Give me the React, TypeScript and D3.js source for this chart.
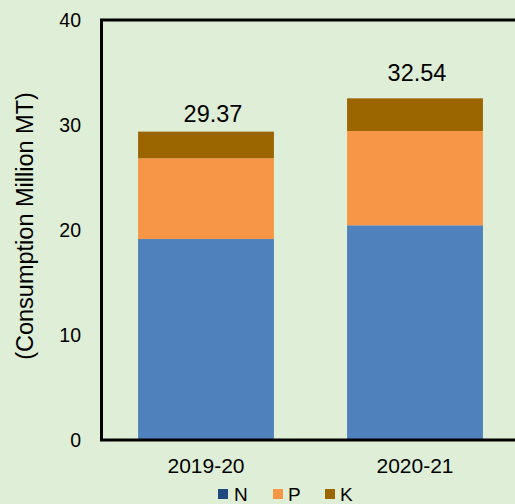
import React from "react";
import * as d3 from "d3";

const categories = ["2019-20", "2020-21"];
const seriesNames = ["N", "P", "K"];
const nValues = [19.14, 20.45];
const pValues = [7.69, 8.98];
const kValues = [2.54, 3.11];
const totals = [29.37, 32.54];
const yTicks = [0, 10, 20, 30, 40];

const W = 515;
const H = 504;
const colors: Record<string, string> = { N: "#4f81bd", P: "#f79646", K: "#9b6500" };
const legendColors: Record<string, string> = { N: "#1f497d", P: "#f79646", K: "#9b6500" };
const labelOffsets = [10, 17];
const labelShiftX = [7, 2];
const font = "'Liberation Sans', Arial, sans-serif";

export default function App() {
  const left = 101.5;
  const top = 20;
  const bottom = 440;
  const x = d3.scaleBand<string>().domain(categories).range([left, left + 418]).paddingInner(0.35).paddingOuter(0.175);
  const y = d3.scaleLinear().domain([0, 40]).range([bottom, top]);

  const rows = categories.map((c, i) => ({ cat: c, N: nValues[i], P: pValues[i], K: kValues[i] }));
  const stacked = d3.stack<any>().keys(seriesNames)(rows);

  const legendItems = [
    { name: "N", sx: 218, tx: 234 },
    { name: "P", sx: 273, tx: 288 },
    { name: "K", sx: 325, tx: 340 },
  ];

  return (
    <div style={{ position: "absolute", left: 0, top: 0 }}>
      <svg width={W} height={H} style={{ display: "block", fontFamily: font }}>
        <rect x={0} y={0} width={W} height={H} fill="#dfeed7" />
        {stacked.map((s) => (
          <g key={s.key} fill={colors[s.key]}>
            {s.map((d, i) => (
              <rect
                key={i}
                x={x(categories[i])}
                y={y(d[1])}
                width={x.bandwidth()}
                height={y(d[0]) - y(d[1])}
              />
            ))}
          </g>
        ))}
        <rect x={left} y={top} width={440} height={bottom - top} fill="none" stroke="#000" strokeWidth={3} />
        {yTicks.map((t) => (
          <text key={t} x={81} y={y(t)} dy="0.36em" textAnchor="end" fontSize={19.5} fill="#000">
            {t}
          </text>
        ))}
        {categories.map((c) => (
          <text key={c} x={(x(c) as number) + x.bandwidth() / 2} y={472.5} textAnchor="middle" fontSize={21} fill="#000">
            {c}
          </text>
        ))}
        {totals.map((t, i) => (
          <text
            key={i}
            x={(x(categories[i]) as number) + x.bandwidth() / 2 + labelShiftX[i]}
            y={y(t) - labelOffsets[i]}
            textAnchor="middle"
            fontSize={23.5}
            fill="#000"
          >
            {t.toFixed(2)}
          </text>
        ))}
        <text
          transform={`translate(32.5, 226) rotate(-90)`}
          textAnchor="middle"
          fontSize={23.5}
          fill="#000"
        >
          (Consumption Million MT)
        </text>
        {legendItems.map((l) => (
          <g key={l.name}>
            <rect x={l.sx} y={489} width={10} height={10} fill={legendColors[l.name]} />
            <text x={l.tx} y={500.5} fontSize={19} fill="#000">
              {l.name}
            </text>
          </g>
        ))}
      </svg>
    </div>
  );
}
